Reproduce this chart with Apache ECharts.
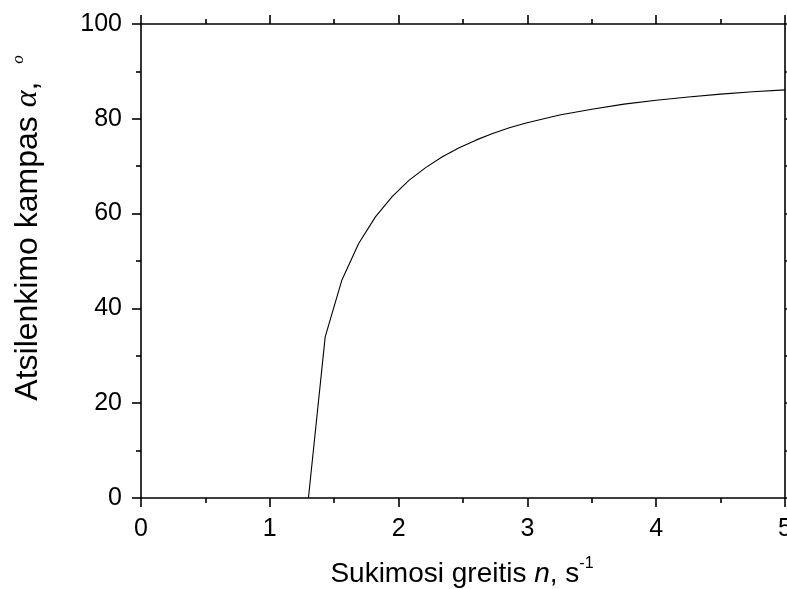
<!DOCTYPE html>
<html>
<head>
<meta charset="utf-8">
<script src="https://cdn.jsdelivr.net/npm/echarts@6/dist/echarts.min.js"></script>
<style>
html,body{margin:0;padding:0;background:#fff;}
#chart{width:787px;height:589px;}
</style>
</head>
<body>
<div id="chart"></div>
<script>
// Rotation speed n, s^-1
var nValues = [1.30, 1.43, 1.56, 1.69, 1.82, 1.95, 2.08, 2.21, 2.34, 2.47, 2.60, 2.73, 2.86, 2.99, 3.25, 3.50, 3.75, 4.00, 4.25, 4.50, 4.75, 5.00];
// Deflection angle alpha, degrees
var alphaValues = [0, 34.0, 46.0, 53.7, 59.3, 63.6, 67.0, 69.7, 72.0, 73.9, 75.5, 76.9, 78.1, 79.1, 80.8, 82.0, 83.1, 83.9, 84.6, 85.2, 85.7, 86.1];
var xTicks = [0, 1, 2, 3, 4, 5];
var yTicks = [0, 20, 40, 60, 80, 100];

var FONT = '"Liberation Sans", Arial, sans-serif';
var seriesData = nValues.map(function (n, i) { return [n, alphaValues[i]]; });

var chart = echarts.init(document.getElementById('chart'), null, {renderer: 'canvas'});

function axisCommon(showLabel) {
  return {
    axisLine: {show: true, onZero: false, lineStyle: {color: '#000', width: 1.6}},
    axisTick: {show: true, inside: false, length: 9, lineStyle: {color: '#000', width: 1.6}},
    minorTick: {show: true, splitNumber: 2, length: 5, lineStyle: {color: '#000', width: 1.6}},
    splitLine: {show: false},
    minorSplitLine: {show: false},
    axisLabel: {show: showLabel, color: '#000', fontFamily: FONT, fontSize: 25, margin: 19}
  };
}

var xBottom = Object.assign({type: 'value', position: 'bottom', min: xTicks[0], max: xTicks[xTicks.length - 1], interval: 1}, axisCommon(true));
var xTop = Object.assign({type: 'value', position: 'top', min: xTicks[0], max: xTicks[xTicks.length - 1], interval: 1}, axisCommon(false));
var yLeft = Object.assign({type: 'value', position: 'left', min: yTicks[0], max: yTicks[yTicks.length - 1], interval: 20}, axisCommon(true));
var yRight = Object.assign({type: 'value', position: 'right', min: yTicks[0], max: yTicks[yTicks.length - 1], interval: 20}, axisCommon(false));
xBottom.axisLabel.showMaxLabel = true;

var option = {
  backgroundColor: '#fff',
  animation: false,
  grid: {left: 141, right: 2, top: 24, bottom: 91, containLabel: false, outerBoundsMode: 'none'},
  xAxis: [xBottom, xTop],
  yAxis: [yLeft, yRight],
  series: [{
    type: 'line',
    xAxisIndex: 0,
    yAxisIndex: 0,
    data: seriesData,
    showSymbol: false,
    smooth: false,
    lineStyle: {color: '#000', width: 1.1},
    clip: false
  }],
  graphic: [
    {
      type: 'text',
      x: 462, y: 572,
      style: {
        text: '{t|Sukimosi greitis }{i|n}{t|, s}{sup|-1}',
        align: 'center',
        verticalAlign: 'middle',
        fill: '#000',
        rich: {
          t: {fontFamily: FONT, fontSize: 28, lineHeight: 32, verticalAlign: 'bottom'},
          i: {fontFamily: FONT, fontSize: 28, fontStyle: 'italic', lineHeight: 32, verticalAlign: 'bottom'},
          sup: {fontFamily: FONT, fontSize: 16, lineHeight: 32, verticalAlign: 'top'}
        }
      }
    },
    {
      type: 'text',
      x: 27, y: 228,
      rotation: Math.PI / 2,
      style: {
        text: '{t|Atsilenkimo kampas }{a|α}{t|,  }{sup|o}',
        align: 'center',
        verticalAlign: 'middle',
        fill: '#000',
        rich: {
          t: {fontFamily: FONT, fontSize: 32, lineHeight: 34, verticalAlign: 'bottom'},
          a: {fontFamily: '"Liberation Serif", serif', fontSize: 32, fontStyle: 'italic', lineHeight: 34, verticalAlign: 'bottom'},
          sup: {fontFamily: '"Liberation Serif", serif', fontSize: 17, fontStyle: 'italic', lineHeight: 34, verticalAlign: 'top'}
        }
      }
    }
  ]
};
chart.setOption(option);
</script>
</body>
</html>
